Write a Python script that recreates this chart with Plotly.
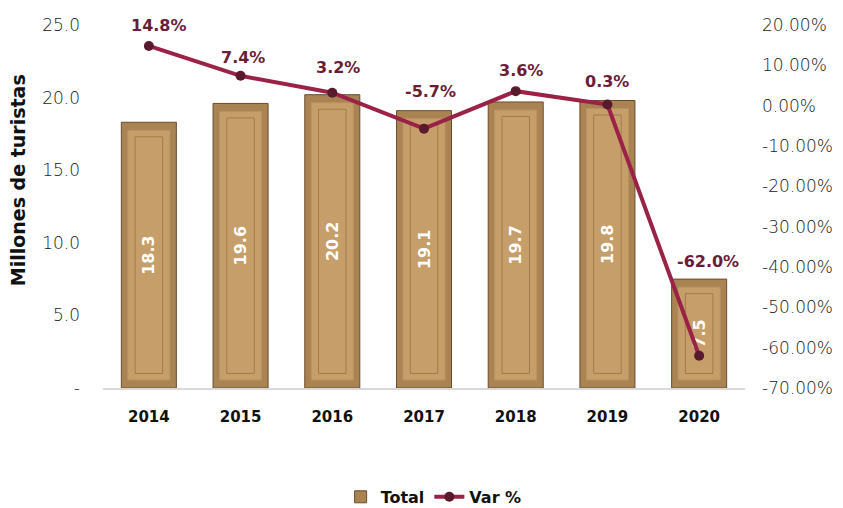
import plotly.graph_objects as go

years = ["2014", "2015", "2016", "2017", "2018", "2019", "2020"]
total = [18.3, 19.6, 20.2, 19.1, 19.7, 19.8, 7.5]
var_pct = [14.8, 7.4, 3.2, -5.7, 3.6, 0.3, -62.0]
left_ticks = [0, 5, 10, 15, 20, 25]
left_labels = ["-", "5.0", "10.0", "15.0", "20.0", "25.0"]
right_ticks = [20, 10, 0, -10, -20, -30, -40, -50, -60, -70]
right_labels = ["20.00%", "10.00%", "0.00%", "-10.00%", "-20.00%", "-30.00%",
                "-40.00%", "-50.00%", "-60.00%", "-70.00%"]

# label offsets (pixels) for the percentage labels, style only
label_dx = [10, 2, 6, 6, 5, 0, 9]
label_dy = [20, 18, 25, 37, 21, 23, 94]

FONT = "DejaVu Sans"
fig = go.Figure()

# outer bevel
fig.add_trace(go.Bar(
    x=years, y=total, name="Total", width=0.6,
    marker=dict(color="#A98352", line=dict(color="#6A4E2E", width=1)),
    hoverinfo="skip",
))
# face
fig.add_trace(go.Bar(
    x=years, y=[v - 1.1 for v in total], base=[0.55] * len(total),
    width=0.46, showlegend=False,
    marker=dict(color="#C69E6A", line=dict(color="#B89262", width=1)),
    hoverinfo="skip",
))
# inner thin panel outline
fig.add_trace(go.Bar(
    x=years, y=[v - 2.0 for v in total], base=[1.0] * len(total),
    width=0.3, showlegend=False,
    marker=dict(color="rgba(196,156,105,0)", line=dict(color="#A07D4E", width=1)),
    hoverinfo="skip",
))
# value labels
fig.add_trace(go.Bar(
    x=years, y=total, width=0.6, showlegend=False,
    marker=dict(color="rgba(0,0,0,0)", line=dict(width=0)),
    text=[f"{v:.1f}" for v in total], textposition="inside",
    insidetextanchor="middle", textangle=-90,
    textfont=dict(family=FONT, size=16, color="white", weight="bold"),
    hoverinfo="skip",
))

fig.add_trace(go.Scatter(
    x=years, y=var_pct, name="Var %", yaxis="y2", mode="lines+markers",
    line=dict(color="#9B2247", width=4),
    marker=dict(color="#5A1A2E", size=10),
    hoverinfo="skip",
))

for i, (v, dx, dy) in enumerate(zip(var_pct, label_dx, label_dy)):
    fig.add_annotation(
        x=i, y=v, xref="x", yref="y2", text=f"{v:.1f}%", showarrow=False,
        xshift=dx, yshift=dy,
        font=dict(family=FONT, size=16, color="#6B1D38", weight="bold"),
    )

fig.add_annotation(
    text="Millones de turistas", textangle=-90, showarrow=False,
    xref="paper", yref="paper", x=-0.132, y=0.573, xanchor="center", yanchor="middle",
    font=dict(family=FONT, size=19, color="#111", weight="bold"),
)

fig.update_layout(
    width=835, height=500,
    margin=dict(l=95, r=98, t=17, b=120, autoexpand=False),
    paper_bgcolor="white", plot_bgcolor="white",
    barmode="overlay",
    font=dict(family=FONT, color="#222"),
    xaxis=dict(
        type="category", automargin=False,
        showgrid=False, showline=True, linecolor="#D9D9D9", linewidth=1.5,
        ticks="", tickfont=dict(family=FONT, size=15, color="#111", weight="bold"),
        ticklabelstandoff=14,
    ),
    yaxis=dict(
        automargin=False,
        range=[0, 25], tickvals=left_ticks, ticktext=left_labels,
        showgrid=False, zeroline=False, showline=False, ticks="",
        tickfont=dict(family=FONT, size=17, color="#222", weight=300),
        ticklabelstandoff=22,
    ),
    yaxis2=dict(
        automargin=False,
        overlaying="y", side="right", range=[-70, 20],
        tickvals=right_ticks, ticktext=right_labels,
        showgrid=False, zeroline=False, showline=False, ticks="",
        tickfont=dict(family=FONT, size=17, color="#222", weight=300),
        ticklabelstandoff=16,
    ),
    legend=dict(orientation="h", x=0.515, xanchor="center", y=-0.30, yanchor="middle",
                font=dict(family=FONT, size=16, color="#111", weight="bold"),
                traceorder="normal"),
    showlegend=True,
)

fig.write_html("out.html")
